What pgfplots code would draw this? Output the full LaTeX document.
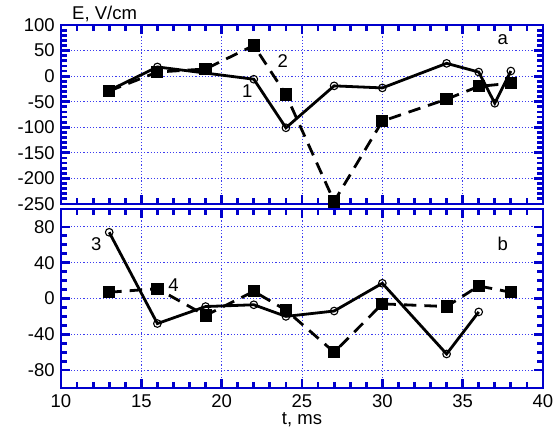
\documentclass[border=0pt]{standalone}
\usepackage{pgfplots}
\pgfplotsset{compat=1.18}
\usepackage{fontspec}
\setmainfont{Liberation Sans}
\definecolor{fblue}{RGB}{0,0,205}
\definecolor{gblue}{RGB}{60,60,240}
\begin{document}
\fontsize{18.5}{21}\selectfont
\begin{tikzpicture}
\useasboundingbox (0pt,0pt) rectangle (558pt,429pt);
\tikzset{lab/.style={font=\fontsize{18.5}{21}\selectfont, inner sep=0pt}}
\pgfplotsset{
 panel/.style={
  scale only axis, width=482pt, height=179pt, xmin=10, xmax=40,
  xtick={10,15,...,40}, minor x tick num=4,
  tick align=inside, tick pos=both,
  axis line style={fblue, line width=2.8pt},
  major tick length=8.5pt, minor tick length=5.5pt,
  tick style={fblue, line width=2.8pt},
  grid=major, major grid style={gblue, dash pattern=on 1.2pt off 2pt, line width=0.9pt},
  tick label style={font=\fontsize{18.5}{21}\selectfont},
  /pgf/number format/assume math mode=true,
  clip=false,
 },
 s1/.style={black, line width=2.8pt, mark=o, mark size=3.8pt, mark options={solid, fill=white, line width=1.1pt}},
 s2/.style={black, line width=2.8pt, dash pattern=on 12.5pt off 8pt, mark=square*, mark size=4.7pt, mark options={solid}},
}
\begin{axis}[panel, at={(61pt,225pt)}, anchor=south west,
  ymin=-250, ymax=100, ytick={-250,-200,...,100},
  yticklabels={-250,-200,-150,-100,-50,0,50,100},
  minor y tick num=4, xticklabels={}]
\addplot[s1] coordinates {(13,-28) (16,18) (22,-6) (24,-101) (27,-19) (30,-23) (34,25) (36,8) (37,-53) (38,10)};
\addplot[s2] coordinates {(13,-29) (16,8) (19,14) (22,60) (24,-36) (27,-245) (30,-88) (34,-45) (36,-20) (38,-14)};
\node[lab] at (axis cs:21.6,-29) {1};
\node[lab] at (axis cs:23.8,29) {2};
\node[lab] at (axis cs:37.5,71.5) {a};
\end{axis}
\begin{axis}[panel, at={(61pt,41pt)}, anchor=south west,
  ymin=-100, ymax=100, ytick={-80,-40,0,40,80},
  yticklabels={-80,-40,0,40,80},
  minor y tick num=3,
  xticklabels={10,15,20,25,30,35,40}]
\addplot[s1] coordinates {(13,74) (16,-28) (19,-9) (22,-7) (24,-20) (27,-14) (30,17) (34,-62) (36,-15)};
\addplot[s2] coordinates {(13,7) (16,11) (19,-19) (22,8) (24,-13) (27,-60) (30,-6) (34,-9) (36,14) (38,7)};
\node[lab] at (axis cs:12.2,61) {3};
\node[lab] at (axis cs:17,14.5) {4};
\node[lab] at (axis cs:37.5,61) {b};
\end{axis}
\node[anchor=base west, inner sep=0pt] at (72pt,409.7pt) {E, V/cm};
\node[anchor=base, inner sep=0pt] at (302pt,4pt) {t, ms};
\end{tikzpicture}
\end{document}
